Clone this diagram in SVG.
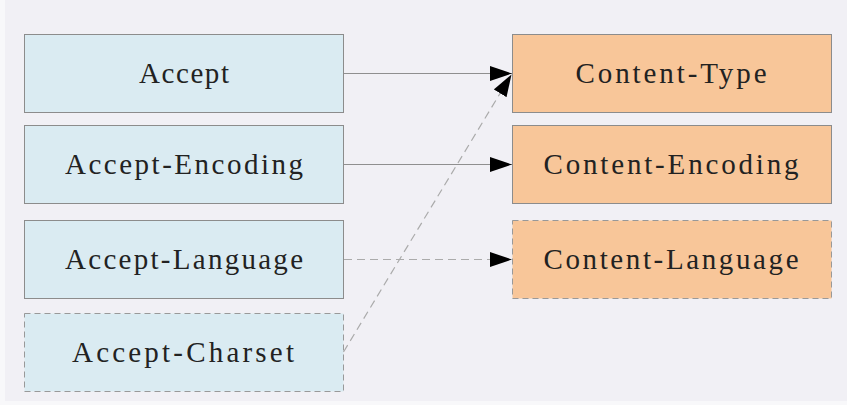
<svg xmlns="http://www.w3.org/2000/svg" width="847" height="405" viewBox="0 0 847 405">
  <defs>
    <style>
      .req { fill: #daebf2; stroke: #8c8c8c; stroke-width: 1; }
      .res { fill: #f8c699; stroke: #8c8c8c; stroke-width: 1; }
      .dash { stroke-dasharray: 6 4; stroke: #999999; }
      .lbl { font-family: "Liberation Serif", "DejaVu Serif", serif; font-size: 29px; fill: #222222; text-anchor: middle; }
      .edge { fill: none; stroke: #8f8f8f; stroke-width: 1.2; }
      .edge-d { fill: none; stroke: #ababab; stroke-width: 1.2; stroke-dasharray: 8 5; }
    </style>
    <marker id="arr" markerUnits="userSpaceOnUse" markerWidth="22" markerHeight="15" refX="22" refY="7.5" orient="auto">
      <path d="M0,0 L22,7.5 L0,15 z" fill="#000000"/>
    </marker>
  </defs>

  <rect x="0" y="0" width="847" height="405" fill="#f8f8fa"/>
  <rect x="5" y="0" width="842" height="401" fill="#f1f0f5"/>

  <g id="accept">
    <rect class="req" x="24.5" y="34.5" width="319" height="78"/>
    <text class="lbl" x="184" y="82.5" textLength="90" lengthAdjust="spacing">Accept</text>
  </g>
  <g id="accept-encoding">
    <rect class="req" x="24.5" y="125.5" width="319" height="78"/>
    <text class="lbl" x="184" y="173.5" textLength="238" lengthAdjust="spacing">Accept-Encoding</text>
  </g>
  <g id="accept-language">
    <rect class="req" x="24.5" y="220.5" width="319" height="78"/>
    <text class="lbl" x="184" y="268.5" textLength="238" lengthAdjust="spacing">Accept-Language</text>
  </g>
  <g id="accept-charset">
    <rect class="req dash" x="24.5" y="313.5" width="319" height="78"/>
    <text class="lbl" x="183" y="361.5" textLength="222" lengthAdjust="spacing">Accept-Charset</text>
  </g>

  <g id="content-type">
    <rect class="res" x="512.5" y="34.5" width="319" height="78"/>
    <text class="lbl" x="671" y="82.5" textLength="191" lengthAdjust="spacing">Content-Type</text>
  </g>
  <g id="content-encoding">
    <rect class="res" x="512.5" y="125.5" width="319" height="78"/>
    <text class="lbl" x="671" y="173.5" textLength="255" lengthAdjust="spacing">Content-Encoding</text>
  </g>
  <g id="content-language">
    <rect class="res dash" x="512.5" y="220.5" width="319" height="78"/>
    <text class="lbl" x="671" y="268.5" textLength="255" lengthAdjust="spacing">Content-Language</text>
  </g>

  <g id="connectors">
    <line class="edge" x1="344" y1="73.5" x2="512" y2="73.5" marker-end="url(#arr)"/>
    <line class="edge" x1="344" y1="164.5" x2="512" y2="164.5" marker-end="url(#arr)"/>
    <line class="edge-d" x1="344" y1="259.5" x2="512" y2="259.5" marker-end="url(#arr)"/>
    <line class="edge-d" x1="343.5" y1="352" x2="511.5" y2="74.5" marker-end="url(#arr)"/>
  </g>
</svg>
